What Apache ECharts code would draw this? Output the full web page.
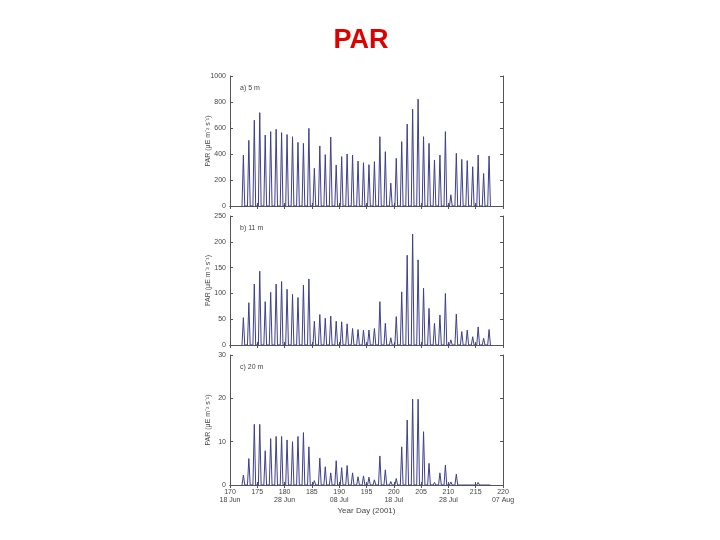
<!DOCTYPE html>
<html>
<head>
<meta charset="utf-8">
<script src="https://cdn.jsdelivr.net/npm/echarts@6/dist/echarts.min.js"></script>
<style>
  html, body { margin: 0; padding: 0; background: #fff; }
  #chart { width: 720px; height: 540px; }
</style>
</head>
<body>
<div id="chart"></div>
<script>
// year days with a daylight spike (peak PAR read per day)
const days = [172, 173, 174, 175, 176, 177, 178, 179, 180, 181, 182, 183, 184, 185, 186, 187,
  188, 189, 190, 191, 192, 193, 194, 195, 196, 197, 198, 199, 200, 201, 202, 203,
  204, 205, 206, 207, 208, 209, 210, 211, 212, 213, 214, 215, 216, 217]

// a) 5 m
const par5 = [392, 505, 660, 718, 546, 572, 590, 564, 550, 533, 490, 482, 597, 290, 462, 395,
  530, 315, 380, 400, 392, 346, 333, 318, 341, 533, 418, 176, 367, 495, 630, 745,
  822, 533, 482, 354, 392, 572, 86, 405, 359, 349, 302, 392, 250, 385]

// b) 11 m
const par11 = [53, 82, 118, 143, 84, 102, 118, 123, 108, 98, 92, 116, 128, 46, 59, 52,
  56, 46, 45, 41, 32, 30, 29, 29, 32, 84, 42, 14, 55, 103, 174, 215,
  165, 110, 71, 42, 58, 100, 10, 60, 26, 29, 16, 35, 13, 30]

// c) 20 m
const par20 = [2.3, 6.1, 14, 14, 7.9, 10.7, 11.2, 11.2, 10.4, 10, 11.2, 12.1, 8.8, 1, 6.2, 4.2,
  2.8, 5.6, 4, 4.5, 2.8, 1.9, 2.1, 1.8, 1.2, 6.7, 3.5, 0.8, 1.5, 8.8, 15, 19.8,
  19.8, 12.3, 5, 0.6, 2.8, 4.6, 0.7, 2.5, 0, 0, 0, 0.6, 0, 0]

const tickDays = [170, 175, 180, 185, 190, 195, 200, 205, 210, 215, 220]
const tickDates = ['18 Jun', '', '28 Jun', '', '08 Jul', '', '18 Jul', '', '28 Jul', '', '07 Aug']

const panelLabels = ['a) 5 m', 'b) 11 m', 'c) 20 m']
const yMax = [1000, 250, 30]
const yStep = [200, 50, 10]

const chart = echarts.init(document.getElementById('chart'))

// night zero, noon peak, night zero for each day
const toCycle = (values) => days.flatMap((d, i) => [[d + 0.2, 0], [d + 0.45, values[i]], [d + 0.7, 0]])

const axisColor = '#555'
const textStyle = { color: '#444', fontSize: 7, fontFamily: 'Liberation Sans, Arial, sans-serif' }

const grids = [
  { left: 230, top: 76, width: 273, height: 130 },
  { left: 230, top: 216, width: 273, height: 129 },
  { left: 230, top: 355, width: 273, height: 130 }
]

const xAxes = []
const yAxes = []
grids.forEach((g, i) => {
  const last = i === 2
  xAxes.push({
    type: 'value', gridIndex: i, min: 170, max: 220, interval: 5, position: 'bottom',
    axisLine: { lineStyle: { color: axisColor, width: 1 } },
    axisTick: { inside: true, length: 3, lineStyle: { color: axisColor } },
    splitLine: { show: false },
    axisLabel: {
      show: last, ...textStyle, lineHeight: 8, margin: 3,
      formatter: (v) => {
        const k = tickDays.indexOf(v)
        return k >= 0 && tickDates[k] ? v + '\n' + tickDates[k] : String(v)
      }
    },
    name: last ? 'Year Day (2001)' : '',
    nameLocation: 'middle', nameGap: 22,
    nameMoveOverlap: false,
    nameTextStyle: { ...textStyle, fontSize: 8 }
  })
  xAxes.push({
    type: 'value', gridIndex: i, min: 170, max: 220, interval: 5, position: 'top',
    axisLine: { lineStyle: { color: axisColor, width: 1 } },
    axisTick: { inside: true, length: 3, lineStyle: { color: axisColor } },
    splitLine: { show: false },
    axisLabel: { show: false }
  })
  yAxes.push({
    type: 'value', gridIndex: i, min: 0, max: yMax[i], interval: yStep[i], position: 'left',
    axisLine: { show: true, lineStyle: { color: axisColor, width: 1 } },
    axisTick: { show: true, inside: true, length: 3, lineStyle: { color: axisColor } },
    splitLine: { show: false },
    axisLabel: { ...textStyle, margin: 4, formatter: (v) => String(v) },
    name: 'PAR (\u03bcE m\u207b\u00b2 s\u207b\u00b9)',
    nameLocation: 'middle', nameGap: 18,
    nameMoveOverlap: false,
    nameTextStyle: { ...textStyle, fontSize: 7 }
  })
  yAxes.push({
    type: 'value', gridIndex: i, min: 0, max: yMax[i], interval: yStep[i], position: 'right',
    axisLine: { show: true, lineStyle: { color: axisColor, width: 1 } },
    axisTick: { show: true, inside: true, length: 3, lineStyle: { color: axisColor } },
    splitLine: { show: false },
    axisLabel: { show: false }
  })
})

const seriesData = [par5, par11, par20]

const option = {
  animation: false,
  backgroundColor: '#fff',
  title: {
    text: 'PAR',
    left: 356, top: 22, textAlign: 'center',
    textStyle: { color: '#e00000', fontSize: 27, fontWeight: 'bold', fontFamily: 'Liberation Sans, Arial, sans-serif' }
  },
  grid: grids,
  xAxis: xAxes,
  yAxis: yAxes,
  graphic: grids.map((g, i) => ({
    type: 'text',
    left: g.left + 10, top: g.top + 9,
    style: { text: panelLabels[i], fill: '#444', fontSize: 7, fontFamily: 'Liberation Sans, Arial, sans-serif' }
  })),
  series: seriesData.map((vals, i) => ({
    type: 'line',
    xAxisIndex: i * 2,
    yAxisIndex: i * 2,
    data: toCycle(vals),
    showSymbol: false,
    lineStyle: { color: '#3c3f8c', width: 1 }
  }))
}

chart.setOption(option)
</script>
</body>
</html>
